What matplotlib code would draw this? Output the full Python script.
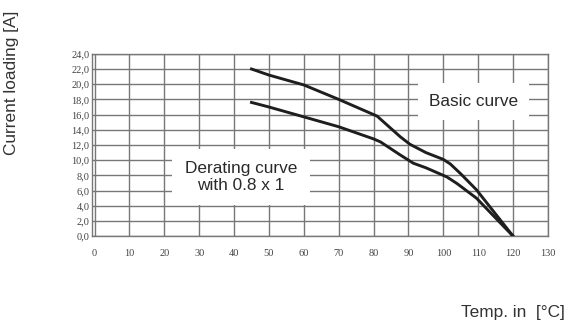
import matplotlib.pyplot as plt

# Values
temp_basic = [45, 50, 60, 70, 80, 81, 87.6, 90.4, 95, 100, 102, 105, 109.5, 120]
load_basic = [22.0, 21.2, 19.9, 18.0, 16.0, 15.8, 13.1, 12.1, 11.0, 10.1, 9.5, 8.2, 6.1, 0.0]

temp_derated = [45, 50, 60, 70, 80, 82, 87.6, 91.4, 95, 101, 104, 109.5, 120]
load_derated = [17.6, 17.0, 15.7, 14.4, 12.8, 12.4, 10.7, 9.6, 9.0, 7.8, 6.9, 5.0, 0.0]

x_ticks = list(range(0, 131, 10))
y_ticks = [i * 2 for i in range(13)]
y_tick_labels = [f'{v:.1f}'.replace('.', ',') for v in y_ticks]

fig = plt.figure(figsize=(5.68, 3.24), dpi=100)
ax = fig.add_axes([0.1627, 0.2710, 0.8021, 0.5630])

grid_col = '#777777'
ax.set_xlim(-0.6, 130)
ax.set_ylim(0, 24)
ax.set_xticks(x_ticks)
ax.set_yticks(y_ticks)
ax.set_yticklabels(y_tick_labels)
ax.tick_params(length=0, labelsize=7.5, colors='#444444')
ax.tick_params(axis='x', pad=9)
ax.tick_params(axis='y', pad=2)
for lab in ax.get_xticklabels() + ax.get_yticklabels():
    lab.set_family('Liberation Serif')
ax.grid(True, color=grid_col, lw=1.0)
for s in ax.spines.values():
    s.set_color(grid_col)
    s.set_linewidth(1.0)

# curves
ax.plot(temp_basic, load_basic, color='#1e1e1e', lw=2.1, zorder=5)
ax.plot(temp_derated, load_derated, color='#1e1e1e', lw=2.1, zorder=5)

# labels in white boxes
ax.text(108.6, 17.7, 'Basic curve', ha='center', va='center', fontsize=12.4,
        family='Liberation Sans', color='#2a2a2a', zorder=4,
        bbox=dict(facecolor='white', edgecolor='none', pad=8))
ax.text(42.0, 7.8, 'Derating curve\nwith 0.8 x 1', ha='center', va='center',
        fontsize=12.4, family='Liberation Sans', color='#2a2a2a',
        linespacing=1.1, zorder=4,
        bbox=dict(facecolor='white', edgecolor='none', pad=9))

fig.text(12 / 568, 1 - 83 / 324, 'Current loading [A]', rotation=90,
         ha='center', va='center', fontsize=12.4, family='Liberation Sans',
         color='#333333')
fig.text(565 / 568, 1 - 313 / 324, 'Temp. in  [°C]', ha='right', va='center',
         fontsize=12.4, family='Liberation Sans', color='#333333')

fig.savefig('out.png', dpi=100)
